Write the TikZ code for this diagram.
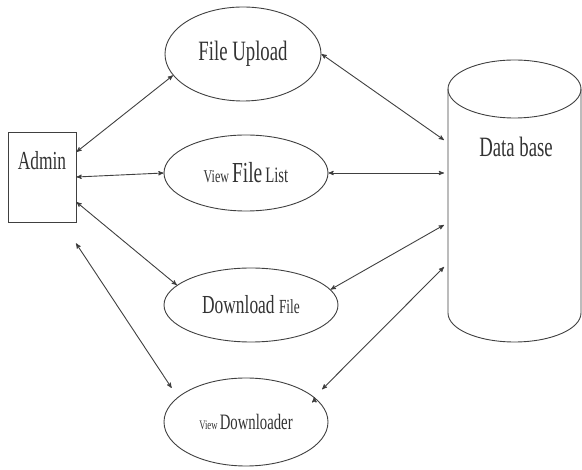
\documentclass[tikz,border=0pt]{standalone}
\usepackage{fontspec}
\newfontfamily\diagfont[FakeStretch=0.67]{Liberation Serif}
\usetikzlibrary{arrows,shapes.geometric}
\newcommand{\txtsize}[1]{\fontsize{#1}{#1}\selectfont}

\begin{document}
\begin{tikzpicture}[x=1pt,y=-1pt,>=stealth',line width=0.9pt,
                    use case/.style={ellipse,draw=black!75,inner sep=0pt,font=\diagfont,text=black!80},
                    actor box/.style={rectangle,draw=black!75,inner sep=3pt,font=\diagfont,text=black!80}]
  \useasboundingbox (0,0) rectangle (582,470);
  \node[actor box,minimum width=68pt,minimum height=90pt,text height=16pt,text depth=30pt] (admin) at (42,177) {\txtsize{26}Admin};
  \node[use case,minimum width=156pt,minimum height=94pt] (upload) at (243,54) {\txtsize{28}File Upload};
  \node[use case,minimum width=164pt,minimum height=76pt] (viewlist) at (246,173) {\txtsize{18}View {\txtsize{29}File} \txtsize{22}List};
  \node[use case,minimum width=174pt,minimum height=74pt] (download) at (251,305) {\txtsize{26}Download {\txtsize{20}File}};
  \node[use case,minimum width=164pt,minimum height=88pt] (viewdl) at (246,422) {\txtsize{13}View {\txtsize{22}Downloader}};
  % data base cylinder
  \draw[black!75] (514.5,89) ellipse [x radius=66.5, y radius=29];
  \draw[black!75] (448,89) -- (448,313) arc [start angle=180, end angle=0, x radius=66.5, y radius=29] -- (581,89);
  \node[font=\diagfont,text=black!80] (db) at (516,147) {\txtsize{28}Data base};
  \coordinate (db1) at (444,140);
  \coordinate (db2) at (444,173);
  \coordinate (db3) at (444,225);
  \coordinate (db4) at (444,267);
  \path[<->,draw=black!75]
    (admin.36) edge (upload.197)
    (admin.0) edge (viewlist.180)
    (admin.-36) edge (download.165)
    (admin.-66) edge [shorten <=25pt,shorten >=11pt] (viewdl.160)
    (upload.0) edge (db1)
    (viewlist.0) edge (db2)
    (download.11) edge (db3)
    (viewdl.20) edge [shorten <=11pt] (db4);
\end{tikzpicture}
\end{document}
